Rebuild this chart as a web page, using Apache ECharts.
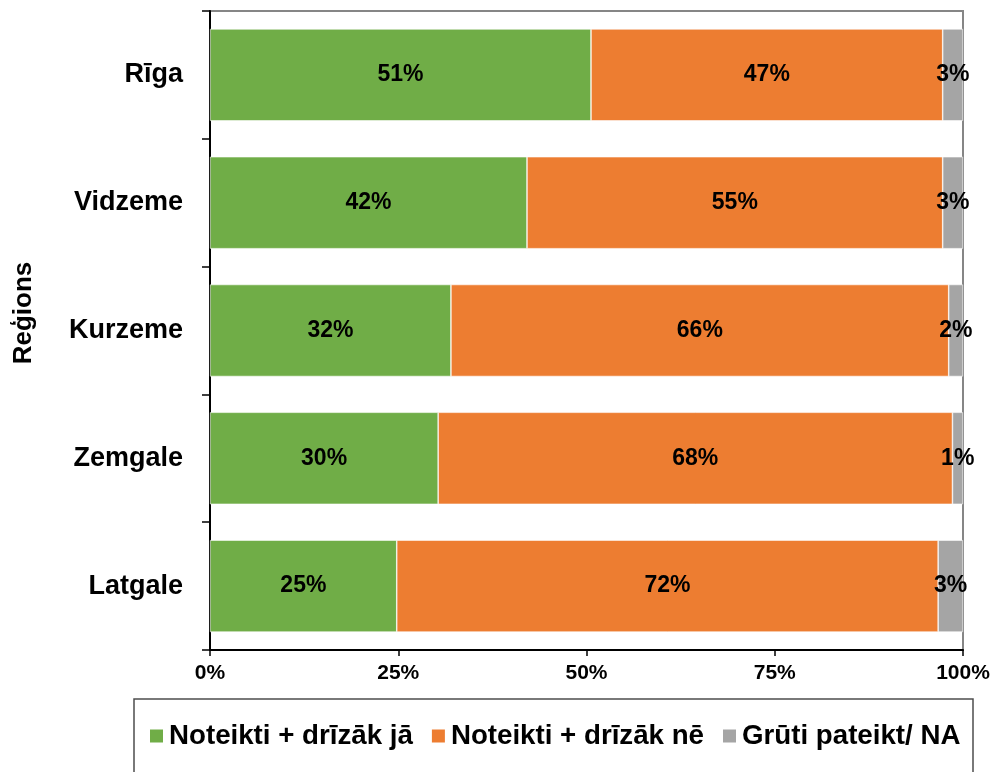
<!DOCTYPE html>
<html>
<head>
<meta charset="utf-8">
<title>Reģions</title>
<script src="https://cdn.jsdelivr.net/npm/echarts@6/dist/echarts.min.js"></script>
<style>
  html, body { margin: 0; padding: 0; background: #fff; }
  #main { width: 994px; height: 772px; }
</style>
</head>
<body>
<div id="main"></div>
<script>
var regions = ['Rīga', 'Vidzeme', 'Kurzeme', 'Zemgale', 'Latgale']
var seriesNames = ['Noteikti + drīzāk jā', 'Noteikti + drīzāk nē', 'Grūti pateikt/ NA']
// procenti no attela (nolasiti, labeli noapaloti)
var valYes = [50.6, 42.1, 32.0, 30.3, 24.8]
var valNo = [46.7, 55.2, 66.1, 68.3, 71.9]
var valNa = [2.7, 2.7, 1.9, 1.4, 3.3]
var xTicks = [0, 25, 50, 75, 100]
var colors = ['#70ad47', '#ed7d31', '#a5a5a5']

var font = "'Liberation Sans', Arial, sans-serif"

function makeSeries(name, data, color) {
  return {
    name: name,
    type: 'bar',
    stack: 'total',
    barWidth: 92,
    data: data,
    itemStyle: { color: color, borderColor: '#ffffff', borderWidth: 0.6 },
    label: {
      show: true,
      position: 'inside',
      color: '#000',
      fontFamily: font,
      fontWeight: 'bold',
      fontSize: 23,
      formatter: function (p) { return Math.round(p.value) + '%' }
    }
  }
}

var mychart = echarts.init(document.getElementById('main'), null, { renderer: 'canvas' })
var option = {
  animation: false,
  color: colors,
  textStyle: { fontFamily: font },
  grid: {
    left: 210,
    right: 31,
    top: 11,
    bottom: 122,
    containLabel: false,
    show: true,
    borderColor: '#868686',
    borderWidth: 2
  },
  legend: {
    left: 143,
    top: 717,
    itemWidth: 15,
    itemHeight: 15,
    itemGap: 17,
    icon: 'rect',
    textStyle: { fontFamily: font, fontWeight: 'bold', fontSize: 27.7, color: '#000' },
    data: seriesNames
  },
  graphic: [{
    type: 'rect',
    shape: { x: 134, y: 699, width: 839, height: 90 },
    style: { fill: 'none', stroke: '#4d4d4d', lineWidth: 1.5 },
    silent: true
  }, {
    // nosaukums y asij
    type: 'text',
    x: 24,
    y: 313,
    rotation: Math.PI / 2,
    style: {
      text: 'Reģions',
      fill: '#000',
      font: 'bold 26px ' + font,
      textAlign: 'center',
      textVerticalAlign: 'middle'
    },
    silent: true
  }],
  xAxis: {
    type: 'value',
    min: xTicks[0],
    max: xTicks[xTicks.length - 1],
    interval: 25,
    axisLine: { show: true, lineStyle: { color: '#000', width: 2 } },
    axisTick: { show: true, length: 6, lineStyle: { color: '#000', width: 1.5 } },
    splitLine: { show: false },
    axisLabel: {
      margin: 13,
      color: '#000',
      fontFamily: font,
      fontWeight: 'bold',
      fontSize: 21,
      formatter: '{value}%'
    }
  },
  yAxis: {
    type: 'category',
    inverse: true,
    data: regions,
    axisLine: { show: true, lineStyle: { color: '#000', width: 2 } },
    axisTick: { show: true, length: 8, lineStyle: { color: '#000', width: 1.5 } },
    axisLabel: {
      margin: 27,
      color: '#000',
      fontFamily: font,
      fontWeight: 'bold',
      fontSize: 27
    }
  },
  series: [
    makeSeries(seriesNames[0], valYes, colors[0]),
    makeSeries(seriesNames[1], valNo, colors[1]),
    makeSeries(seriesNames[2], valNa, colors[2])
  ]
}
mychart.setOption(option)
</script>
</body>
</html>
